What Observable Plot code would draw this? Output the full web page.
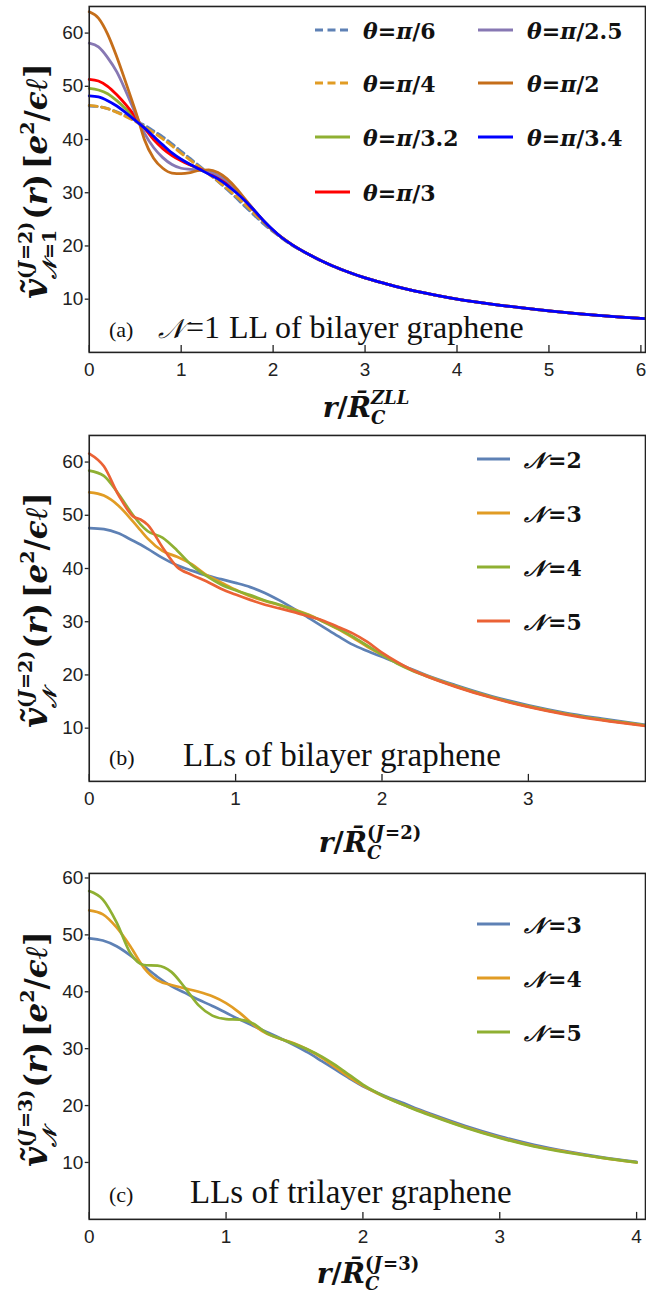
<!DOCTYPE html>
<html><head><meta charset="utf-8">
<script src="https://cdn.jsdelivr.net/npm/d3@7"></script>
<script src="https://cdn.jsdelivr.net/npm/@observablehq/plot@0.6"></script>
<style>
html,body{margin:0;padding:0;background:#fff;}
#wrap{position:relative;width:646px;height:1298px;overflow:hidden;background:#fff;}
#wrap > svg{position:absolute;left:0;}
</style></head><body><div id="wrap"></div>
<script>
// ---------- Panel (a): N=1 LL of bilayer graphene ----------
const rA = [0,0.1,0.2,0.3,0.4,0.5,0.55,0.6,0.7,0.8,0.9,1.0,1.1,1.2,1.3,1.4,1.5,1.6,1.7,1.8,1.9,2.0,2.1,2.2,2.4,2.6,2.8,3.0,3.25,3.5,3.75,4.0,4.5,5.0,5.5,6.0,6.05];
const aPi6   = [46.3,46.2,45.8,45.2,44.5,43.6,43.1,42.7,41.6,40.5,39.2,37.8,36.4,35.0,33.6,32.1,30.6,29.0,27.3,25.7,24.1,22.7,21.4,20.2,18.3,16.6,15.2,14.0,12.8,11.7,10.8,10.0,8.8,7.8,7.0,6.4,6.35];
const aPi4   = [46.4,46.2,45.8,45.1,44.3,43.4,42.9,42.4,41.3,40.1,38.8,37.4,36.1,34.8,33.5,32.2,30.8,29.3,27.7,26.0,24.4,22.9,21.5,20.3,18.3,16.6,15.2,14.0,12.8,11.7,10.8,10.0,8.8,7.8,7.0,6.4,6.35];
const aPi32  = [49.6,49.3,48.6,47.3,45.7,44.0,43.0,42.3,40.4,38.7,37.3,36.2,35.2,34.4,33.6,32.8,31.6,30.1,28.4,26.5,24.6,22.9,21.5,20.3,18.3,16.6,15.2,14.0,12.8,11.7,10.8,10.0,8.8,7.8,7.0,6.4,6.35];
const aPi3   = [51.3,51.0,50.0,48.4,46.5,44.3,43.0,42.1,40.0,38.3,37.0,36.0,35.2,34.5,33.8,33.0,31.8,30.2,28.4,26.5,24.6,22.9,21.5,20.3,18.3,16.6,15.2,14.0,12.8,11.7,10.8,10.0,8.8,7.8,7.0,6.4,6.35];
const aPi25  = [58.1,57.4,55.4,52.7,49.0,45.0,43.0,41.2,38.5,36.6,35.3,34.6,34.4,34.3,34.0,33.3,32.2,30.5,28.6,26.6,24.6,22.9,21.5,20.3,18.3,16.6,15.2,14.0,12.8,11.7,10.8,10.0,8.8,7.8,7.0,6.4,6.35];
const aPi2   = [64.0,62.8,59.8,55.5,50.6,45.5,42.8,40.0,36.5,34.6,33.7,33.6,33.8,34.2,34.3,33.8,32.6,30.8,28.7,26.6,24.6,22.9,21.5,20.3,18.3,16.6,15.2,14.0,12.8,11.7,10.8,10.0,8.8,7.8,7.0,6.4,6.35];
const aPi34  = [48.2,48.0,47.3,46.3,45.0,43.6,42.9,42.2,40.6,39.0,37.5,36.3,35.3,34.4,33.5,32.6,31.4,30.0,28.4,26.6,24.7,23.0,21.5,20.3,18.3,16.6,15.2,14.0,12.8,11.7,10.8,10.0,8.8,7.8,7.0,6.4,6.35];
const aLabels = ["π/6","π/4","π/3.2","π/3","π/2.5","π/2","π/3.4"];
const aColors = ["#5E81B5","#E19C24","#8FB032","#FF0000","#8778B3","#C56E1A","#0000FF"];
const aDashed = [true,true,false,false,false,false,false];
const aTicksX = [0,1,2,3,4,5,6];
const aTicksY = [10,20,30,40,50,60];

// ---------- Panel (b): LLs of bilayer graphene ----------
const rB = [0,0.1,0.2,0.3,0.35,0.4,0.5,0.6,0.7,0.8,0.9,1.0,1.1,1.2,1.3,1.4,1.5,1.6,1.7,1.8,1.9,2.0,2.1,2.2,2.3,2.5,2.75,3.0,3.25,3.5,3.8];
const bN2 = [47.6,47.4,46.6,45.2,44.5,43.7,42.0,40.6,39.6,38.7,38.0,37.3,36.5,35.4,34.0,32.4,30.7,29.0,27.3,25.7,24.5,23.4,22.3,21.1,20.0,18.1,16.0,14.3,12.9,11.8,10.6];
const bN3 = [54.3,53.7,51.8,48.8,47.2,45.6,43.3,42.2,40.8,38.8,37.4,36.0,34.8,33.9,33.1,32.3,31.3,30.0,28.6,27.0,25.3,23.8,22.3,21.0,19.9,17.9,15.8,14.1,12.7,11.6,10.5];
const bN4 = [58.4,57.4,54.0,50.0,48.3,47.0,45.8,43.4,40.6,38.6,37.0,35.9,35.0,34.0,33.2,32.2,31.2,30.0,28.7,27.2,25.5,23.8,22.2,20.9,19.8,17.9,15.8,14.1,12.7,11.6,10.5];
const bN5 = [61.6,59.2,53.8,49.8,49.2,48.2,44.0,40.3,38.8,37.6,36.2,35.1,34.1,33.2,32.5,31.8,31.0,30.2,29.0,27.8,26.2,24.2,22.5,21.0,19.8,17.8,15.7,14.0,12.6,11.5,10.4];
const bLabels = ["2","3","4","5"];
const bColors = ["#5E81B5","#E19C24","#8FB032","#EB6235"];
const bTicksX = [0,1,2,3];
const bTicksY = [10,20,30,40,50,60];

// ---------- Panel (c): LLs of trilayer graphene ----------
const rC = [0,0.1,0.2,0.3,0.4,0.5,0.6,0.7,0.8,0.9,1.0,1.1,1.2,1.3,1.4,1.5,1.6,1.7,1.8,1.9,2.0,2.1,2.2,2.3,2.4,2.5,2.75,3.0,3.25,3.5,3.75,4.0];
const cN3 = [49.4,49.0,48.0,46.4,44.5,42.6,41.0,39.8,38.6,37.5,36.3,35.1,34.0,32.9,31.8,30.6,29.3,27.8,26.3,24.8,23.4,22.3,21.3,20.4,19.4,18.5,16.4,14.6,13.1,11.9,10.9,10.1];
const cN4 = [54.3,53.6,51.3,48.0,44.2,42.0,41.2,40.6,40.0,39.2,38.0,36.3,34.2,32.6,31.7,30.9,29.8,28.4,26.7,25.0,23.5,22.2,21.1,20.1,19.2,18.3,16.2,14.4,12.9,11.8,10.8,10.0];
const cN5 = [57.7,56.2,52.2,46.8,44.7,44.6,43.5,40.7,37.6,35.8,35.2,35.1,34.4,32.7,31.7,30.8,29.8,28.6,27.1,25.4,23.7,22.3,21.1,20.1,19.1,18.2,16.1,14.3,12.8,11.7,10.8,10.0];
const cLabels = ["3","4","5"];
const cColors = ["#5E81B5","#E19C24","#8FB032"];
const cTicksX = [0,1,2,3,4];
const cTicksY = [10,20,30,40,50,60];

const wrap = document.getElementById("wrap");
const tickFont = "Liberation Sans, Arial, sans-serif";

function panel({r, series, colors, dashed, xDomain, yDomain, xTicks, yTicks, top, height, marginTop, marginBottom, sw}) {
  const marks = series.map((vals, k) => Plot.line(r.map((x, i) => ({r: x, v: vals[i]})), {
    x: "r", y: "v", stroke: colors[k], strokeWidth: sw,
    strokeDasharray: dashed && dashed[k] ? "8,4.5" : null, curve: "monotone-x"
  }));
  const svg = Plot.plot({
    width: 648, height, marginLeft: 89, marginRight: 1, marginTop, marginBottom,
    style: {fontFamily: tickFont, fontSize: "19px", color: "#222", background: "transparent", overflow: "visible"},
    x: {domain: xDomain, label: null},
    y: {domain: yDomain, label: null},
    marks: [
      ...marks,
      Plot.frame({stroke: "#222", strokeWidth: 1.6}),
      Plot.axisX(xTicks, {tickSize: -7, tickPadding: 17, label: null, tickFormat: d3.format("d"), stroke: "#222", strokeWidth: 1.3}),
      Plot.axisY(yTicks, {tickSize: 4, tickPadding: 2, label: null, tickFormat: d3.format("d"), stroke: "#222", strokeWidth: 1.3})
    ]
  });
  svg.style.top = top + "px";
  wrap.appendChild(svg);
}

panel({r: rA, series: [aPi6,aPi4,aPi32,aPi3,aPi25,aPi2,aPi34], colors: aColors, dashed: aDashed,
  xDomain: [0, 6.05], yDomain: [0, 65], xTicks: aTicksX, yTicks: aTicksY,
  top: 0, height: 400, marginTop: 6, marginBottom: 47, sw: 2.8});
panel({r: rB, series: [bN2,bN3,bN4,bN5], colors: bColors,
  xDomain: [0, 3.8], yDomain: [0, 65], xTicks: bTicksX, yTicks: bTicksY,
  top: 420, height: 400, marginTop: 15, marginBottom: 38, sw: 2.7});
panel({r: rC, series: [cN3,cN4,cN5], colors: cColors,
  xDomain: [0, 4.065], yDomain: [0, 60.8], xTicks: cTicksX, yTicks: cTicksY,
  top: 850, height: 420, marginTop: 23, marginBottom: 50, sw: 2.7});

// ---------- overlay: labels, legends ----------
const overlay = d3.select(wrap).append("svg").attr("width", 646).attr("height", 1298)
  .style("position", "absolute").style("left", "0px").style("top", "0px");

const MF = "DejaVu Serif";
const I = (t, size, after) => ({t, italic: true, size, after});
const B = (t, size, after) => ({t, size, after});

function mathText(runs, {x, y, anchor = "middle", rotate = 0, size = 24, color = "#111"}) {
  const g = overlay.append("g");
  const inner = g.append("g");
  let cx = 0;
  function put(run, px, shift) {
    const t = inner.append("text").attr("x", px).attr("y", shift)
      .attr("font-family", run.family || MF)
      .attr("font-size", run.size || size)
      .attr("font-weight", run.weight || "bold")
      .attr("font-style", run.italic ? "italic" : "normal")
      .attr("fill", color).attr("xml:space", "preserve").style("white-space", "pre").text(run.t);
    return t.node().getComputedTextLength() + (run.after || 0);
  }
  for (const run of runs) {
    if (run.stack) {
      let w = 0;
      for (const [part, shift] of [[run.sup, run.supShift], [run.sub, run.subShift]]) {
        if (!part) continue;
        let px = cx;
        for (const rr of part) px += put(rr, px, shift);
        w = Math.max(w, px - cx);
      }
      cx += w + (run.after || 0);
    } else {
      cx += put(run, cx, run.shift || 0);
    }
  }
  const off = anchor === "middle" ? -cx / 2 : anchor === "end" ? -cx : 0;
  inner.attr("transform", `translate(${off},0)`);
  g.attr("transform", `translate(${x},${y}) rotate(${rotate})`);
  return cx;
}

function yLabel(sub, J, cy) {
  const S = 31, s = 19;
  const subRuns = sub ? [I("𝒩", s, 2), B(sub, s)] : [I("𝒩", s)];
  mathText([
    {t: "\u1E7D", italic: true, size: 34},
    {stack: true, sup: [B("(", s), I("J", s, 1), B("=" + J + ")", s)], supShift: -15, sub: subRuns, subShift: 9, after: 2},
    B("(", S), I("r", S), B(")", S, 5),
    B("[", S), I("e", S), {t: "2", size: s, shift: -13}, B("/", S), I("\u03F5", S), I("\u2113", S), B("]", S)
  ], {x: 47, y: cy, rotate: -90});
}
yLabel("=1", 2, 181);
yLabel(null, 2, 610);
yLabel(null, 3, 1049);

function xLabel(sup, cx, by) {
  const S = 28;
  mathText([
    I("r", S), B("/", S), I("R\u0304", S),
    {stack: true, sup: sup, supShift: -13, sub: [I("C", 18)], subShift: 7}
  ], {x: cx, y: by});
}
xLabel([I("ZLL", 18)], 366, 417);
xLabel([B("(", 18), I("J", 18, 1), B("=2)", 18)], 370, 852);
xLabel([B("(", 18), I("J", 18, 1), B("=3)", 18)], 368, 1283);

// panel annotations
function note(tag, x, y, size) {
  overlay.append("text").attr("x", x).attr("y", y).attr("font-family", "Liberation Serif, serif")
    .attr("font-size", size).attr("fill", "#111").text(tag);
}
note("(a)", 109, 337, 22);
note("(b)", 109, 765, 22);
note("(c)", 109, 1202, 22);
mathText([{t: "𝒩", italic: true, size: 27, weight: "normal", after: 2},
  {t: "=1", size: 32, weight: "normal", family: "Liberation Serif, serif", after: 9},
  {t: "LL of bilayer graphene", size: 32, weight: "normal", family: "Liberation Serif, serif"}],
  {x: 158, y: 338, anchor: "start"});
note("LLs of bilayer graphene", 183, 766, 33);
note("LLs of trilayer graphene", 190, 1203, 33);

// legends
function swatch(x1, x2, y, color, dash) {
  overlay.append("line").attr("x1", x1).attr("x2", x2).attr("y1", y).attr("y2", y)
    .attr("stroke", color).attr("stroke-width", 2.8).attr("stroke-dasharray", dash ? "8,4.5" : null);
}
const aRows = [30, 83, 137, 192];
aLabels.forEach((lab, k) => {
  const col = k < 4 ? 0 : 1, row = k < 4 ? k : k - 4;
  const x1 = col ? 478 : 315, tx = col ? 527 : 363;
  swatch(x1, x1 + 35, aRows[row], aColors[k], aDashed[k]);
  const q = lab.split("/")[1];
  mathText([I("θ", 22), B("=", 22), I("π", 22), B("/" + q, 22)], {x: tx, y: aRows[row] + 9, anchor: "start"});
});
const bRows = [459, 513, 567, 621];
bLabels.forEach((lab, k) => {
  swatch(477, 510, bRows[k], bColors[k]);
  mathText([I("𝒩", 22, 3), B("=" + lab, 22)], {x: 524, y: bRows[k] + 9, anchor: "start"});
});
const cRows = [924, 978, 1032];
cLabels.forEach((lab, k) => {
  swatch(477, 510, cRows[k], cColors[k]);
  mathText([I("𝒩", 22, 3), B("=" + lab, 22)], {x: 524, y: cRows[k] + 9, anchor: "start"});
});
</script></body></html>
